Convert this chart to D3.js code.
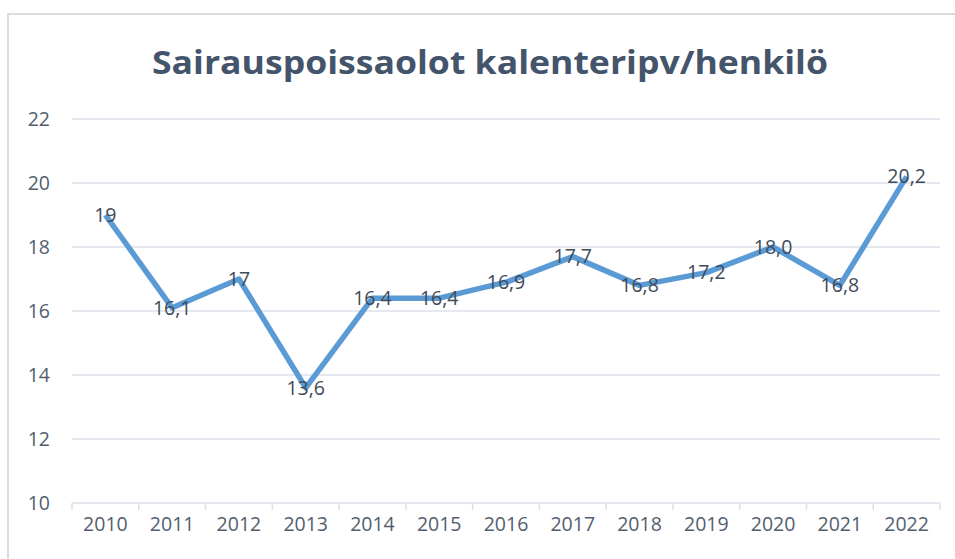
<!DOCTYPE html>
<html>
<head>
<meta charset="utf-8">
<script src="https://cdn.jsdelivr.net/npm/d3@7"></script>
<style>
  body { margin: 0; background: #fff; }
  text { font-family: "Open Sans", "Noto Sans", sans-serif; }
</style>
</head>
<body>
<script>
// Chart data
var years = ["2010", "2011", "2012", "2013", "2014", "2015", "2016", "2017", "2018", "2019", "2020", "2021", "2022"];
var values = [19, 16.1, 17, 13.6, 16.4, 16.4, 16.9, 17.7, 16.8, 17.2, 18.0, 16.8, 20.2];
var labels = ["19", "16,1", "17", "13,6", "16,4", "16,4", "16,9", "17,7", "16,8", "17,2", "18,0", "16,8", "20,2"];
var yTicks = [10, 12, 14, 16, 18, 20, 22];

var svgWidth = 955;
var svgHeight = 559;
var margin = { top: 119, right: 15, bottom: 56, left: 72 };
var width = 940 - margin.left;
var height = 503 - margin.top;

var svg = d3.select("body")
  .append("svg")
  .attr("width", svgWidth)
  .attr("height", svgHeight);

// chart frame
svg.append("rect")
  .attr("x", 8)
  .attr("y", 14)
  .attr("width", 960)
  .attr("height", 560)
  .attr("fill", "none")
  .attr("stroke", "#D9DCE1")
  .attr("stroke-width", 2);

// title
svg.append("text")
  .attr("x", 490)
  .attr("y", 74)
  .attr("text-anchor", "middle")
  .attr("fill", "#44546A")
  .attr("font-size", 32)
  .attr("font-weight", "bold")
  .attr("textLength", 676)
  .attr("lengthAdjust", "spacingAndGlyphs")
  .text("Sairauspoissaolot kalenteripv/henkilö");

var chartGroup = svg.append("g")
  .attr("transform", `translate(${margin.left}, ${margin.top})`);

var x = d3.scaleBand()
  .domain(years)
  .range([0, width]);

var y = d3.scaleLinear()
  .domain([10, 22])
  .range([height, 0]);

// gridlines
chartGroup.selectAll(".grid")
  .data(yTicks)
  .enter()
  .append("line")
  .attr("x1", 0)
  .attr("x2", width)
  .attr("y1", d => y(d))
  .attr("y2", d => y(d))
  .attr("stroke", "#DDE1E8")
  .attr("stroke-width", 1.5);

// y labels
chartGroup.selectAll(".ylab")
  .data(yTicks)
  .enter()
  .append("text")
  .attr("x", -22)
  .attr("y", d => y(d))
  .attr("dy", "0.35em")
  .attr("text-anchor", "end")
  .attr("fill", "#525E6E")
  .attr("font-size", 19.5)
  .text(d => d);

// x axis ticks at category boundaries
var bounds = years.map(d => x(d)).concat([width]);
chartGroup.selectAll(".xtick")
  .data(bounds)
  .enter()
  .append("line")
  .attr("x1", d => d)
  .attr("x2", d => d)
  .attr("y1", height)
  .attr("y2", height + 7)
  .attr("stroke", "#DDE1E8")
  .attr("stroke-width", 1.5);

chartGroup.selectAll(".xlab")
  .data(years)
  .enter()
  .append("text")
  .attr("x", d => x(d) + x.bandwidth() / 2)
  .attr("y", height + 21)
  .attr("dy", "0.35em")
  .attr("text-anchor", "middle")
  .attr("fill", "#525E6E")
  .attr("font-size", 19.5)
  .text(d => d);

// line
var line = d3.line()
  .x((d, i) => x(years[i]) + x.bandwidth() / 2)
  .y(d => y(d));

chartGroup.append("path")
  .datum(values)
  .attr("d", line)
  .attr("fill", "none")
  .attr("stroke", "#5B9BD5")
  .attr("stroke-width", 5.5)
  .attr("stroke-linejoin", "round");

// data labels centered on points
chartGroup.selectAll(".dlab")
  .data(values)
  .enter()
  .append("text")
  .attr("x", (d, i) => x(years[i]) + x.bandwidth() / 2)
  .attr("y", d => y(d))
  .attr("dy", "0.35em")
  .attr("text-anchor", "middle")
  .attr("fill", "#404B5A")
  .attr("font-size", 19.5)
  .text((d, i) => labels[i]);
</script>
</body>
</html>
